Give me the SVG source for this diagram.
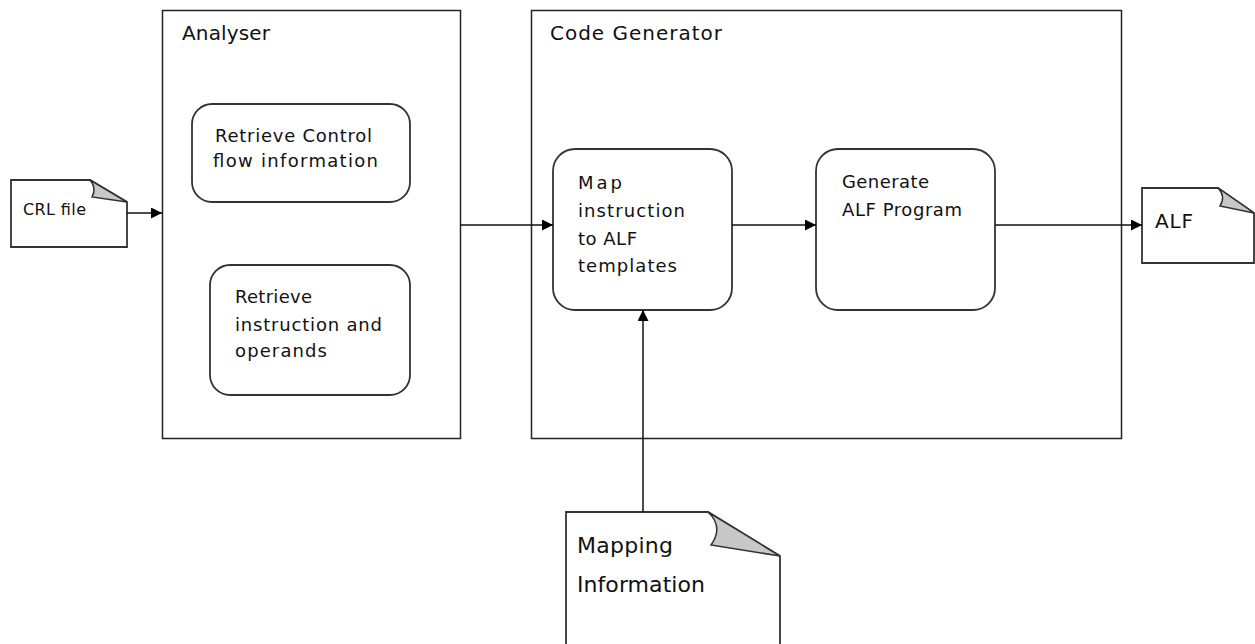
<svg xmlns="http://www.w3.org/2000/svg" width="1255" height="644" viewBox="0 0 1255 644">
<style>
.frame{fill:#fff;stroke:#222;stroke-width:1.5}
.box{fill:#fff;stroke:#333;stroke-width:1.8}
.doc{fill:#fff;stroke:#333;stroke-width:1.8}
.curl{fill:#c8c8c8;stroke:#333;stroke-width:1.5}
.conn{fill:none;stroke:#111;stroke-width:1.5}
text{font-family:"DejaVu Sans","Open Sans",sans-serif;fill:#111}
.t20{font-size:20px}
.t18{font-size:18px}
.t16{font-size:16px}
.t22{font-size:22px}
</style>
<defs>
<marker id="arr" viewBox="0 0 10 10" refX="10" refY="5" markerWidth="11" markerHeight="11" markerUnits="userSpaceOnUse" orient="auto">
<path d="M0,0 L10,5 L0,10 Z" fill="#000"/>
</marker>
</defs>
<rect width="1255" height="644" fill="#fff"/>
<g id="analyser">
<rect class="frame" x="162.5" y="10.5" width="298" height="428"/>
<text class="t20" x="182" y="40" textLength="88" lengthAdjust="spacing">Analyser</text>
</g>
<g id="codegen">
<rect class="frame" x="531.5" y="10.5" width="590" height="428"/>
<text class="t20" x="550" y="40" textLength="172" lengthAdjust="spacing">Code Generator</text>
</g>
<g id="retrieve-control">
<rect class="box" x="192" y="104" width="218" height="98" rx="20"/>
<text class="t18" x="215" y="142" textLength="157" lengthAdjust="spacing">Retrieve Control</text>
<text class="t18" x="213" y="167" textLength="165" lengthAdjust="spacing">flow information</text>
</g>
<g id="retrieve-instr">
<rect class="box" x="210" y="265" width="200" height="130" rx="20"/>
<text class="t18" x="235" y="303" textLength="77" lengthAdjust="spacing">Retrieve</text>
<text class="t18" x="235" y="331" textLength="147" lengthAdjust="spacing">instruction and</text>
<text class="t18" x="235" y="357" textLength="92" lengthAdjust="spacing">operands</text>
</g>
<g id="map">
<rect class="box" x="553" y="149" width="179" height="161" rx="22"/>
<text class="t18" x="578" y="189" textLength="44" lengthAdjust="spacing">Map</text>
<text class="t18" x="578" y="217" textLength="107" lengthAdjust="spacing">instruction</text>
<text class="t18" x="578" y="245" textLength="59" lengthAdjust="spacing">to ALF</text>
<text class="t18" x="578" y="272" textLength="99" lengthAdjust="spacing">templates</text>
</g>
<g id="generate">
<rect class="box" x="816" y="149" width="179" height="161" rx="22"/>
<text class="t18" x="842" y="188" textLength="87" lengthAdjust="spacing">Generate</text>
<text class="t18" x="842" y="216" textLength="120" lengthAdjust="spacing">ALF Program</text>
</g>
<g id="crl-file">
<path class="doc" d="M11,180 L90,180 L127,202 L127,247 L11,247 Z"/>
<path class="curl" d="M90,180 Q97,188 92,197 L127,202 Z"/>
<text class="t16" x="23" y="215" textLength="63" lengthAdjust="spacing">CRL file</text>
</g>
<g id="alf">
<path class="doc" d="M1142,188 L1218,188 L1254,213 L1254,263 L1142,263 Z"/>
<path class="curl" d="M1218,188 Q1226,196 1220,206 L1254,213 Z"/>
<text class="t20" x="1155" y="228" textLength="38" lengthAdjust="spacing">ALF</text>
</g>
<g id="mapping-info">
<path class="doc" d="M566,512 L708,512 L780,556 L780,650 L566,650 Z"/>
<path class="curl" d="M708,512 Q724,527 711,545 L780,556 Z"/>
<text class="t22" x="577" y="553" textLength="96" lengthAdjust="spacing">Mapping</text>
<text class="t22" x="577" y="592" textLength="128" lengthAdjust="spacing">Information</text>
</g>
<g id="connectors">
<path class="conn" d="M127,213 L162,213" marker-end="url(#arr)"/>
<path class="conn" d="M460,225 L553,225" marker-end="url(#arr)"/>
<path class="conn" d="M732,225 L816,225" marker-end="url(#arr)"/>
<path class="conn" d="M995,225 L1142,225" marker-end="url(#arr)"/>
<path class="conn" d="M643,512 L643,310" marker-end="url(#arr)"/>
</g>
</svg>
